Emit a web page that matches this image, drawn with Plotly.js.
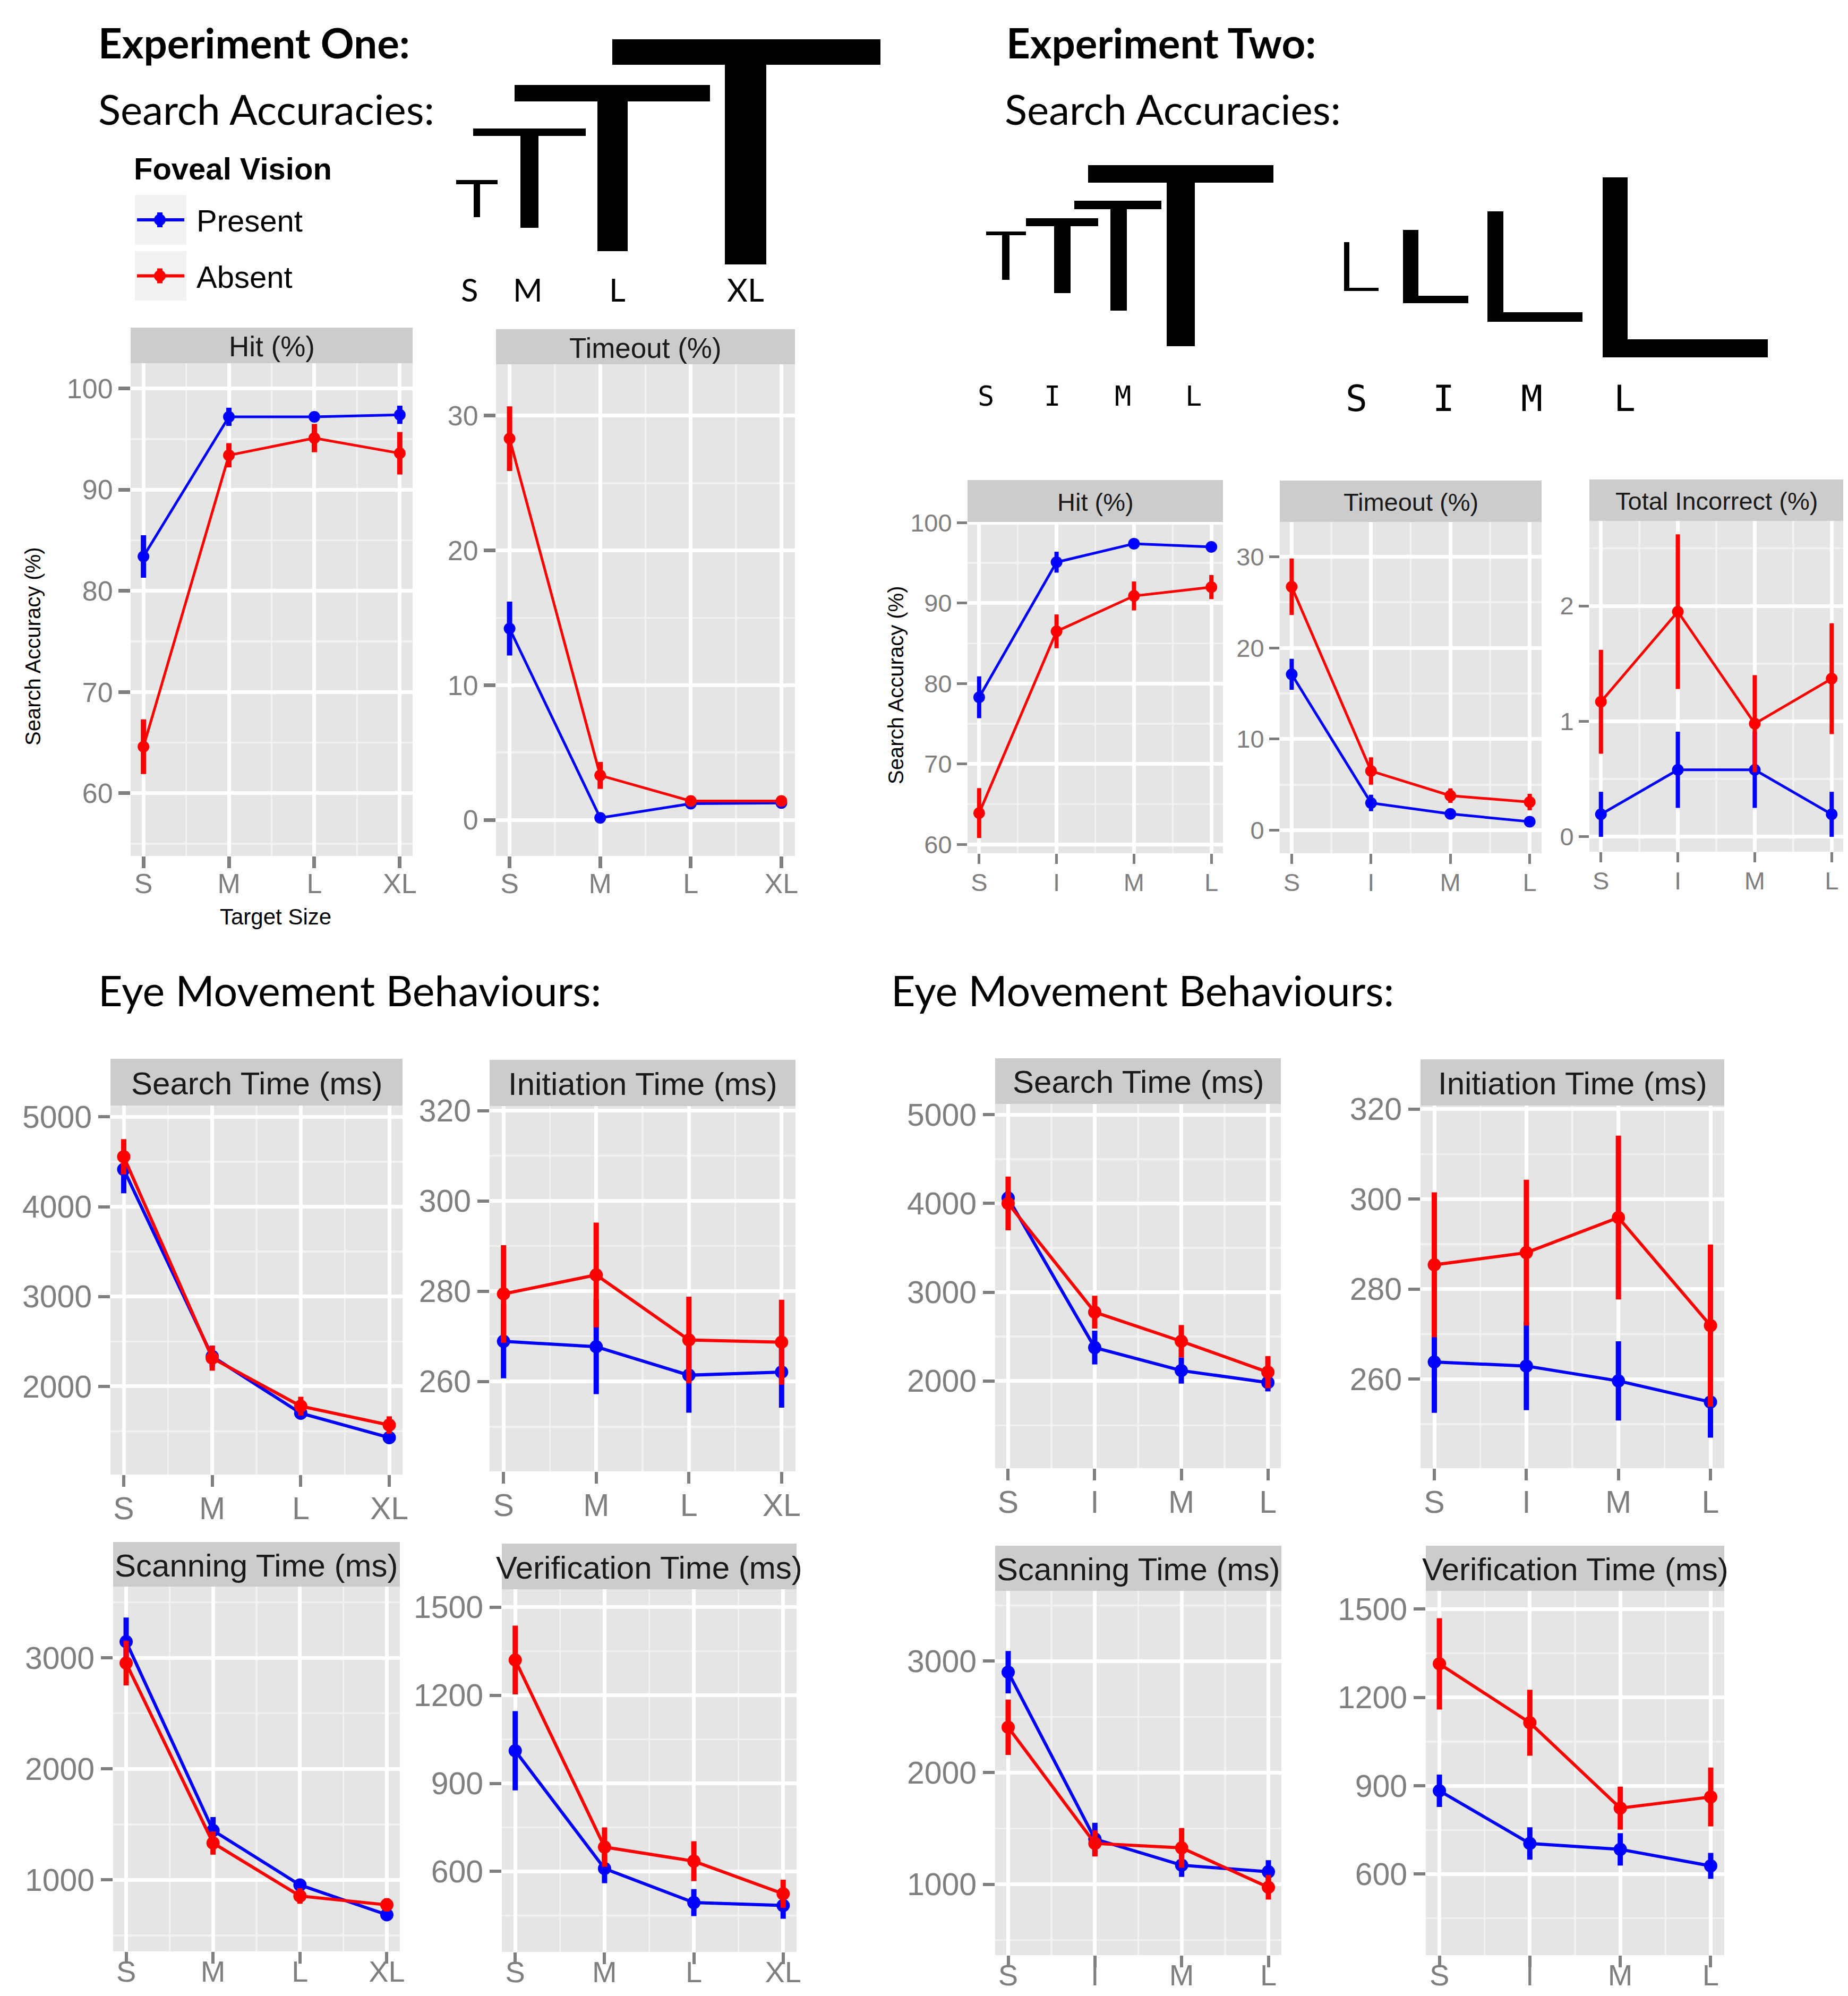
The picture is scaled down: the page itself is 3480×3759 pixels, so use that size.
<!DOCTYPE html>
<html><head><meta charset="utf-8">
<script src="https://cdn.plot.ly/plotly-3.0.1.min.js"></script>
<style>html,body{margin:0;padding:0;background:#fff}#chart{width:3480px;height:3759px}</style>
</head><body><div id="chart"></div>
<script>
const W = 3480, H = 3759;

// ---------- categories ----------
const sizesExp1 = ['S', 'M', 'L', 'XL'];
const sizesExp2 = ['S', 'I', 'M', 'L'];
const seriesNames = ['Present', 'Absent'];

// ---------- Experiment One: search accuracies ----------
const e1HitPresent = [83.4, 97.2, 97.2, 97.4];
const e1HitPresentErr = [2.1, 0.9, 0.4, 0.9];
const e1HitAbsent = [64.6, 93.4, 95.1, 93.6];
const e1HitAbsentErr = [2.7, 1.2, 1.4, 2.1];
const e1TimeoutPresent = [14.2, 0.15, 1.2, 1.25];
const e1TimeoutPresentErr = [2.0, 0.15, 0.3, 0.3];
const e1TimeoutAbsent = [28.3, 3.3, 1.4, 1.4];
const e1TimeoutAbsentErr = [2.4, 1.0, 0.4, 0.3];

// ---------- Experiment Two: search accuracies ----------
const e2HitPresent = [78.3, 95.1, 97.4, 97.0];
const e2HitPresentErr = [2.6, 1.3, 0.5, 0.5];
const e2HitAbsent = [63.9, 86.5, 90.9, 92.0];
const e2HitAbsentErr = [3.1, 2.1, 1.8, 1.5];
const e2TimeoutPresent = [17.1, 3.0, 1.8, 0.95];
const e2TimeoutPresentErr = [1.7, 0.9, 0.4, 0.3];
const e2TimeoutAbsent = [26.7, 6.5, 3.8, 3.1];
const e2TimeoutAbsentErr = [3.1, 1.5, 0.8, 0.9];
const e2IncorrectPresent = [0.195, 0.58, 0.58, 0.195];
const e2IncorrectPresentErr = [0.195, 0.33, 0.33, 0.195];
const e2IncorrectAbsent = [1.17, 1.95, 0.98, 1.37];
const e2IncorrectAbsentErr = [0.45, 0.67, 0.42, 0.48];

// ---------- Experiment One: eye movements ----------
const e1SearchPresent = [4415, 2333, 1702, 1430];
const e1SearchPresentErr = [265, 120, 50, 40];
const e1SearchAbsent = [4556, 2315, 1780, 1570];
const e1SearchAbsentErr = [196, 140, 105, 97];
const e1InitPresent = [268.9, 267.7, 261.4, 262.1];
const e1InitPresentErr = [8.2, 10.5, 8.3, 7.9];
const e1InitAbsent = [279.4, 283.6, 269.2, 268.7];
const e1InitAbsentErr = [10.8, 11.6, 9.6, 9.4];
const e1ScanPresent = [3145, 1445, 954, 686];
const e1ScanPresentErr = [218, 121, 55, 40];
const e1ScanAbsent = [2952, 1332, 855, 775];
const e1ScanAbsentErr = [201, 105, 70, 60];
const e1VerifPresent = [1011, 610, 494, 484];
const e1VerifPresentErr = [135, 50, 46, 45];
const e1VerifAbsent = [1320, 683, 635, 524];
const e1VerifAbsentErr = [117, 67, 68, 48];

// ---------- Experiment Two: eye movements ----------
const e2SearchPresent = [4060, 2376, 2117, 1982];
const e2SearchPresentErr = [80, 190, 147, 100];
const e2SearchAbsent = [4000, 2775, 2447, 2099];
const e2SearchAbsentErr = [303, 185, 183, 181];
const e2InitPresent = [263.8, 262.9, 259.6, 254.9];
const e2InitPresentErr = [11.3, 9.8, 8.8, 7.9];
const e2InitAbsent = [285.4, 288.1, 295.9, 271.9];
const e2InitAbsentErr = [16.1, 16.2, 18.2, 18.0];
const e2ScanPresent = [2901, 1406, 1171, 1112];
const e2ScanPresentErr = [190, 145, 105, 104];
const e2ScanAbsent = [2407, 1366, 1326, 973];
const e2ScanAbsentErr = [248, 117, 178, 110];
const e2VerifPresent = [883, 704, 684, 628];
const e2VerifPresentErr = [55, 55, 55, 44];
const e2VerifAbsent = [1314, 1114, 824, 862];
const e2VerifAbsentErr = [155, 112, 73, 100];

// ---------- tick labels ----------
const ticksHit = [60, 70, 80, 90, 100];
const ticksTimeout = [0, 10, 20, 30];
const ticksIncorrect = [0, 1, 2];
const ticksSearch = [2000, 3000, 4000, 5000];
const ticksInit = [260, 280, 300, 320];
const ticksScan = [1000, 2000, 3000];
const ticksVerif = [600, 900, 1200, 1500];

// ---------- styles / layout helpers ----------
const BLUE = '#0000FF', RED = '#FF0000';
const GG_FONT = 'Liberation Sans, Arial, sans-serif';
const TITLE_FONT = 'Lato, Carlito, sans-serif';
const P = x => x / W;
const Q = y => 1 - y / H;

const styleE1 = {tick: 52, strip: 53, ticklen: 22, tickw: 7, lw: 5, ms: 22, et: 10, grid: 7, minor: 3.5, xoff: -15};
const styleE2 = {tick: 47, strip: 47, ticklen: 19, tickw: 5, lw: 5, ms: 22, et: 8, grid: 7, minor: 3.5, xoff: -5};
const styleEye = {tick: 59, strip: 60, ticklen: 22, tickw: 6, lw: 6, ms: 25, et: 10, grid: 7, minor: 3.5, xoff: -10};
const styleEyeLow = Object.assign({}, styleEye, {xoff: -33, xtick: 56});

// box: [left, right, stripTop, plotTop, plotBottom] in pixels
const panels = [
  {cats: sizesExp1, title: 'Hit (%)', pres: e1HitPresent, presE: e1HitPresentErr, abs: e1HitAbsent, absE: e1HitAbsentErr,
   box: [246, 777, 617, 684, 1612], yr: [53.8, 102.5], ticks: ticksHit, minor: 5, st: styleE1},
  {cats: sizesExp1, title: 'Timeout (%)', pres: e1TimeoutPresent, presE: e1TimeoutPresentErr, abs: e1TimeoutAbsent, absE: e1TimeoutAbsentErr,
   box: [934, 1497, 620, 686, 1612], yr: [-2.68, 33.82], ticks: ticksTimeout, minor: 5, st: styleE1},
  {cats: sizesExp2, title: 'Hit (%)', pres: e2HitPresent, presE: e2HitPresentErr, abs: e2HitAbsent, absE: e2HitAbsentErr,
   box: [1822, 2303, 904, 983, 1607], yr: [58.9, 100.1], ticks: ticksHit, minor: 5, st: styleE2},
  {cats: sizesExp2, title: 'Timeout (%)', pres: e2TimeoutPresent, presE: e2TimeoutPresentErr, abs: e2TimeoutAbsent, absE: e2TimeoutAbsentErr,
   box: [2410, 2903, 905, 983, 1607], yr: [-2.52, 33.8], ticks: ticksTimeout, minor: 5, st: styleE2},
  {cats: sizesExp2, title: 'Total Incorrect (%)', pres: e2IncorrectPresent, presE: e2IncorrectPresentErr, abs: e2IncorrectAbsent, absE: e2IncorrectAbsentErr,
   box: [2993, 3471, 903, 981, 1604], yr: [-0.129, 2.736], ticks: ticksIncorrect, minor: 0.5, st: styleE2},
  {cats: sizesExp1, title: 'Search Time (ms)', pres: e1SearchPresent, presE: e1SearchPresentErr, abs: e1SearchAbsent, absE: e1SearchAbsentErr,
   box: [208, 758, 1994, 2082, 2777], yr: [1019, 5126], ticks: ticksSearch, minor: 500, st: styleEye},
  {cats: sizesExp1, title: 'Initiation Time (ms)', pres: e1InitPresent, presE: e1InitPresentErr, abs: e1InitAbsent, absE: e1InitAbsentErr,
   box: [922, 1498, 1996, 2083, 2771], yr: [240.1, 321.0], ticks: ticksInit, minor: 10, st: styleEye},
  {cats: sizesExp1, title: 'Scanning Time (ms)', pres: e1ScanPresent, presE: e1ScanPresentErr, abs: e1ScanAbsent, absE: e1ScanAbsentErr,
   box: [213, 753, 2904, 2988, 3675], yr: [356, 3641], ticks: ticksScan, minor: 500, st: styleEyeLow},
  {cats: sizesExp1, title: 'Verification Time (ms)', pres: e1VerifPresent, presE: e1VerifPresentErr, abs: e1VerifAbsent, absE: e1VerifAbsentErr,
   box: [945, 1500, 2907, 2993, 3676], yr: [326, 1561], ticks: ticksVerif, minor: 150, st: styleEyeLow},
  {cats: sizesExp2, title: 'Search Time (ms)', pres: e2SearchPresent, presE: e2SearchPresentErr, abs: e2SearchAbsent, absE: e2SearchAbsentErr,
   box: [1874, 2412, 1993, 2079, 2765], yr: [1017, 5121], ticks: ticksSearch, minor: 500, st: styleEye},
  {cats: sizesExp2, title: 'Initiation Time (ms)', pres: e2InitPresent, presE: e2InitPresentErr, abs: e2InitAbsent, absE: e2InitAbsentErr,
   box: [2675, 3247, 1995, 2082, 2765], yr: [240.2, 320.8], ticks: ticksInit, minor: 10, st: styleEye},
  {cats: sizesExp2, title: 'Scanning Time (ms)', pres: e2ScanPresent, presE: e2ScanPresentErr, abs: e2ScanAbsent, absE: e2ScanAbsentErr,
   box: [1874, 2413, 2911, 2996, 3682], yr: [365, 3630], ticks: ticksScan, minor: 500, st: styleEyeLow},
  {cats: sizesExp2, title: 'Verification Time (ms)', pres: e2VerifPresent, presE: e2VerifPresentErr, abs: e2VerifAbsent, absE: e2VerifAbsentErr,
   box: [2685, 3247, 2911, 2996, 3682], yr: [325, 1561.7], ticks: ticksVerif, minor: 150, st: styleEyeLow}
];

const data = [];
const shapes = [];
const annotations = [];
const layout = {
  width: W, height: H, margin: {l: 0, r: 0, t: 0, b: 0},
  paper_bgcolor: '#FFFFFF', plot_bgcolor: '#E5E5E5', showlegend: false,
  shapes: shapes, annotations: annotations
};

panels.forEach((p, i) => {
  const n = i + 1, suf = n === 1 ? '' : String(n);
  const st = p.st;
  const xs = p.cats.map((c, j) => j);
  [[p.pres, p.presE, BLUE, seriesNames[0]], [p.abs, p.absE, RED, seriesNames[1]]].forEach(([v, e, col, nm]) => {
    data.push({
      type: 'scatter', mode: 'lines+markers', name: nm, x: xs, y: v,
      xaxis: 'x' + suf, yaxis: 'y' + suf,
      line: {color: col, width: st.lw},
      marker: {color: col, size: st.ms, line: {width: 0}},
      error_y: {type: 'data', array: e, visible: true, color: col, thickness: st.et, width: 0},
      hoverinfo: 'skip', cliponaxis: false
    });
  });
  const [l, r, sTop, pTop, pBot] = p.box;
  layout['xaxis' + suf] = {
    domain: [P(l), P(r)], anchor: 'y' + suf, range: [-0.15, p.cats.length - 1 + 0.15],
    tickmode: 'array', tickvals: xs, ticktext: p.cats,
    showgrid: true, gridcolor: '#FFFFFF', gridwidth: st.grid, zeroline: false, showline: false,
    ticks: 'outside', ticklen: st.ticklen, tickwidth: st.tickw, tickcolor: '#7F7F7F',
    ticklabelstandoff: st.xoff,
    tickfont: {family: GG_FONT, size: st.xtick || st.tick, color: '#7F7F7F'},
    minor: {tickmode: 'array', tickvals: xs.slice(1).map(v => v - 0.5), showgrid: true, gridcolor: '#F2F2F2', gridwidth: st.minor, ticks: ''},
    fixedrange: true
  };
  layout['yaxis' + suf] = {
    domain: [Q(pBot), Q(pTop)], anchor: 'x' + suf, range: p.yr,
    tickmode: 'array', tickvals: p.ticks,
    showgrid: true, gridcolor: '#FFFFFF', gridwidth: st.grid, zeroline: false, showline: false,
    ticks: 'outside', ticklen: st.ticklen, tickwidth: st.tickw, tickcolor: '#7F7F7F',
    tickfont: {family: GG_FONT, size: st.tick, color: '#7F7F7F'},
    minor: {tick0: p.ticks[0], dtick: p.minor, showgrid: true, gridcolor: '#F2F2F2', gridwidth: st.minor, ticks: ''},
    fixedrange: true
  };
  // facet strip
  shapes.push({type: 'rect', xref: 'paper', yref: 'paper', x0: P(l), x1: P(r), y0: Q(pTop), y1: Q(sTop),
    fillcolor: '#CCCCCC', line: {width: 0}, layer: 'above'});
  annotations.push({xref: 'paper', yref: 'paper', x: P((l + r) / 2), y: Q((sTop + pTop) / 2 + 2),
    xanchor: 'center', yanchor: 'middle', text: p.title, showarrow: false,
    font: {family: GG_FONT, size: st.strip, color: '#1A1A1A'}});
});

// ---------- text headings ----------
function txt(text, x, y, size, opts) {
  opts = opts || {};
  annotations.push({xref: 'paper', yref: 'paper', x: P(x), y: Q(y),
    xanchor: opts.xanchor || 'left', yanchor: 'middle', text: text, showarrow: false,
    textangle: opts.angle || 0,
    font: {family: opts.family || TITLE_FONT, size: size, color: opts.color || '#000000'}});
}
txt('<b>Experiment One:</b>', 183, 80, 78);
txt('Search Accuracies:', 183, 205, 78);
txt('<b>Experiment Two:</b>', 1893, 80, 78);
txt('Search Accuracies:', 1890, 205, 78);
txt('Eye Movement Behaviours:', 183, 1864, 79);
txt('Eye Movement Behaviours:', 1676, 1864, 79);

// axis titles
txt('Search Accuracy (%)', 62, 1218, 40, {family: GG_FONT, angle: -90, xanchor: 'center'});
txt('Search Accuracy (%)', 1687, 1291, 40, {family: GG_FONT, angle: -90, xanchor: 'center'});
txt('Target Size', 519, 1726, 42, {family: GG_FONT, xanchor: 'center'});

// ---------- legend (Foveal Vision) ----------
txt('<b>Foveal Vision</b>', 250, 318, 58, {family: GG_FONT});
const legendRows = [{name: seriesNames[0], col: BLUE, top: 367, bot: 461},
                    {name: seriesNames[1], col: RED, top: 473, bot: 566}];
legendRows.forEach(row => {
  const cy = (row.top + row.bot) / 2;
  shapes.push({type: 'rect', xref: 'paper', yref: 'paper', x0: P(254), x1: P(351), y0: Q(row.bot), y1: Q(row.top),
    fillcolor: '#F2F2F2', line: {width: 0}});
  shapes.push({type: 'line', xref: 'paper', yref: 'paper', x0: P(258), x1: P(347), y0: Q(cy), y1: Q(cy),
    line: {color: row.col, width: 6}});
  shapes.push({type: 'line', xref: 'paper', yref: 'paper', x0: P(301), x1: P(301), y0: Q(cy - 14), y1: Q(cy + 14),
    line: {color: row.col, width: 10}});
  shapes.push({type: 'circle', xref: 'paper', yref: 'paper', x0: P(290), x1: P(312), y0: Q(cy + 11), y1: Q(cy - 11),
    fillcolor: row.col, line: {width: 0}});
  txt(row.name, 368, cy + 2, 58, {family: GG_FONT});
});

// ---------- stimulus glyphs ----------
function blk(x0, y0, x1, y1) {
  shapes.push({type: 'rect', xref: 'paper', yref: 'paper', x0: P(x0), x1: P(x1), y0: Q(y1), y1: Q(y0),
    fillcolor: '#000000', line: {width: 0}});
}
// Experiment One T's
blk(859, 339, 937, 347); blk(892, 346, 904, 409);
blk(891, 242, 1103, 256); blk(980, 255, 1014, 429);
blk(969, 160, 1337, 191); blk(1125, 190, 1182, 473);
blk(1153, 74, 1658, 122); blk(1365, 121, 1443, 498);
const glyphLabelsExp1 = [[sizesExp1[0], 885], [sizesExp1[1], 994], [sizesExp1[2], 1162], [sizesExp1[3], 1404]];
glyphLabelsExp1.forEach(([t, x]) => txt(t, x, 545, 60, {xanchor: 'center'}));
// Experiment Two T's
blk(1857, 436, 1932, 443); blk(1887, 442, 1901, 527);
blk(1932, 411, 2068, 426); blk(1985, 425, 2016, 552);
blk(2023, 378, 2187, 394); blk(2091, 393, 2122, 585);
blk(2049, 311, 2398, 344); blk(2197, 343, 2250, 652);
// Experiment Two L's
blk(2531, 456, 2541, 548); blk(2531, 542, 2596, 548);
blk(2642, 433, 2671, 571); blk(2642, 557, 2765, 571);
blk(2801, 398, 2831, 606); blk(2801, 588, 2980, 606);
blk(3018, 334, 3065, 673); blk(3018, 639, 3329, 673);
const tLabelX = [1856, 1981, 2114, 2247];
const lLabelX = [2554, 2718, 2884, 3059];
sizesExp2.forEach((t, j) => {
  txt(t, tLabelX[j], 746, 52, {family: 'DejaVu Sans Mono, monospace', xanchor: 'center'});
  txt(t, lLabelX[j], 750, 68, {family: 'DejaVu Sans Mono, monospace', xanchor: 'center'});
});

Plotly.newPlot('chart', data, layout, {staticPlot: true, displayModeBar: false});
</script>
</body></html>
